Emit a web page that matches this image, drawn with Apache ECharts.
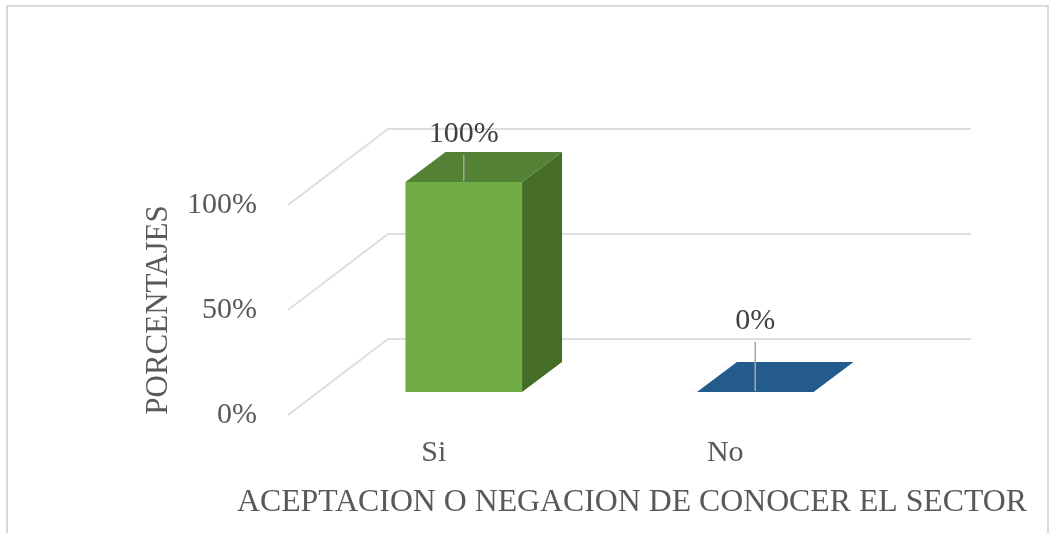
<!DOCTYPE html>
<html>
<head>
<meta charset="utf-8">
<title>Aceptacion o negacion de conocer el sector</title>
<script src="https://cdn.jsdelivr.net/npm/echarts@6/dist/echarts.min.js"></script>
<style>
    html, body { margin: 0; padding: 0; background: #fff; }
    #chart { width: 1055px; height: 533px; }
</style>
</head>
<body>
<div id="chart"></div>
<script>
// datos del grafico
const categorias = ['Si', 'No']
const porcentajes = [1, 0]
const marcasEje = [0, 0.5, 1]

// estilo de cada barra: cara frontal, tapa, lateral
const carasFrente = ['#70AD47', '#255E91']
const carasTapa = ['#548235', '#245B8D']
const carasLado = ['#466D28', '#1B466D']
// altura de la etiqueta sobre la cara frontal (px)
const subidaEtiqueta = [48, 71]

// proyeccion 3D (px)
const FONDO = [100, -76]       // pared frontal -> pared del fondo
const FRENTE_BARRA = [30, -23] // pared frontal -> cara frontal de la barra
const PROF_BARRA = [40, -30]   // profundidad de la barra
const ANCHO_BARRA = 0.4

const FUENTE = "'Liberation Serif', 'Times New Roman', serif"

const chart = echarts.init(document.getElementById('chart'))

const fmtPct = v => Math.round(v * 100) + '%'

const option = {
    animation: false,
    title: {
        text: 'ACEPTACION O NEGACION DE CONOCER EL SECTOR',
        left: 627,
        top: 482,
        textAlign: 'center',
        textStyle: { fontFamily: FUENTE, fontSize: 31.8, fontWeight: 'normal', color: '#595959' }
    },
    graphic: [{
        type: 'rect',
        shape: { x: 7, y: 6, width: 1041, height: 600 },
        style: { fill: 'none', stroke: '#D9D9D9', lineWidth: 2 },
        silent: true
    }],
    grid: { left: 288, right: 184, top: 205, bottom: 118 },
    xAxis: {
        type: 'category',
        data: categorias,
        axisLine: { show: false },
        axisTick: { show: false },
        axisLabel: { fontFamily: FUENTE, fontSize: 30, color: '#595959', margin: 23 }
    },
    yAxis: {
        type: 'value',
        min: 0,
        max: 1,
        interval: 0.5,
        name: 'PORCENTAJES',
        nameLocation: 'middle',
        nameRotate: 90,
        nameGap: 114,
        nameTextStyle: { fontFamily: FUENTE, fontSize: 31, color: '#595959' },
        axisLine: { show: false },
        axisTick: { show: false },
        splitLine: { show: false },
        axisLabel: { fontFamily: FUENTE, fontSize: 30, color: '#595959', margin: 31, formatter: fmtPct }
    },
    series: [
        {
            // lineas de division: piso lateral + pared del fondo
            type: 'custom',
            silent: true,
            data: marcasEje.map(v => [0, v]),
            renderItem: (params, api) => {
                const cs = params.coordSys
                const y = api.coord([0, api.value(1)])[1]
                return {
                    type: 'polyline',
                    shape: {
                        points: [
                            [cs.x, y],
                            [cs.x + FONDO[0], y + FONDO[1]],
                            [cs.x + cs.width + FONDO[0], y + FONDO[1]]
                        ]
                    },
                    style: { fill: 'none', stroke: '#DEDEDE', lineWidth: 2 }
                }
            }
        },
        {
            type: 'custom',
            data: categorias.map((c, i) => [i, porcentajes[i]]),
            renderItem: (params, api) => {
                const i = api.value(0)
                const v = api.value(1)
                const base = api.coord([i, 0])
                const tope = api.coord([i, v])
                const w = api.size([1, 0])[0] * ANCHO_BARRA
                const x0 = base[0] - w / 2 + FRENTE_BARRA[0]
                const x1 = x0 + w
                const yb = base[1] + FRENTE_BARRA[1]
                const yt = tope[1] + FRENTE_BARRA[1]
                const dx = PROF_BARRA[0]
                const dy = PROF_BARRA[1]
                const xc = (x0 + x1) / 2
                const yEtq = yt - subidaEtiqueta[i]
                const hijos = []
                if (yb - yt > 0.5) {
                    hijos.push({
                        type: 'polygon',
                        shape: { points: [[x1, yb], [x1 + dx, yb + dy], [x1 + dx, yt + dy], [x1, yt]] },
                        style: { fill: carasLado[i] }
                    })
                    hijos.push({
                        type: 'rect',
                        shape: { x: x0, y: yt, width: w, height: yb - yt },
                        style: { fill: carasFrente[i] }
                    })
                }
                hijos.push({
                    type: 'polygon',
                    shape: { points: [[x0, yt], [x1, yt], [x1 + dx, yt + dy], [x0 + dx, yt + dy]] },
                    style: { fill: carasTapa[i] }
                })
                // linea guia y etiqueta
                hijos.push({
                    type: 'line',
                    shape: { x1: xc, y1: yt - 1, x2: xc, y2: yEtq + 21 },
                    style: { stroke: '#A6A6A6', lineWidth: 1.5 }
                })
                hijos.push({
                    type: 'text',
                    style: {
                        x: xc,
                        y: yEtq,
                        text: fmtPct(v),
                        align: 'center',
                        verticalAlign: 'middle',
                        font: '30px ' + FUENTE,
                        fill: '#404040'
                    }
                })
                return { type: 'group', children: hijos }
            }
        }
    ]
}

chart.setOption(option)
window.addEventListener('resize', () => chart.resize())
</script>
</body>
</html>
